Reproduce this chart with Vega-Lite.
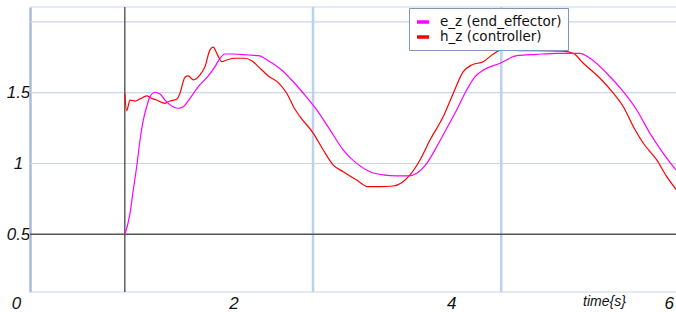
{
  "$schema": "https://vega.github.io/schema/vega-lite/v6.json",
  "width": 660,
  "height": 285,
  "autosize": {"type": "none"},
  "padding": {"left": 16, "top": 7, "right": 0, "bottom": 20},
  "background": "white",
  "config": {"view": {"stroke": null}},
  "datasets": {
    "hgrid": [
      {"z": 1.0, "t0": 0.129, "t1": 6.066, "kind": "grid"},
      {"z": 1.5, "t0": 0.129, "t1": 6.066, "kind": "grid"},
      {"z": 2.0, "t0": 0.129, "t1": 6.066, "kind": "grid"},
      {"z": 2.105, "t0": 0.129, "t1": 6.066, "kind": "frame"},
      {"z": 0.0925, "t0": 0.129, "t1": 6.066, "kind": "frame"}
    ],
    "vgrid": [{"t": 2.73}, {"t": 4.46}],
    "axes0": [{"t": 1.0, "z": 0.5}],
    "series": [
      {"t": 1.0, "z": 1.496, "s": "h_z (controller)"},
      {"t": 1.017, "z": 1.373, "s": "h_z (controller)"},
      {"t": 1.048, "z": 1.448, "s": "h_z (controller)"},
      {"t": 1.094, "z": 1.441, "s": "h_z (controller)"},
      {"t": 1.14, "z": 1.456, "s": "h_z (controller)"},
      {"t": 1.201, "z": 1.477, "s": "h_z (controller)"},
      {"t": 1.247, "z": 1.46, "s": "h_z (controller)"},
      {"t": 1.293, "z": 1.448, "s": "h_z (controller)"},
      {"t": 1.369, "z": 1.425, "s": "h_z (controller)"},
      {"t": 1.415, "z": 1.441, "s": "h_z (controller)"},
      {"t": 1.477, "z": 1.453, "s": "h_z (controller)"},
      {"t": 1.507, "z": 1.496, "s": "h_z (controller)"},
      {"t": 1.553, "z": 1.609, "s": "h_z (controller)"},
      {"t": 1.584, "z": 1.618, "s": "h_z (controller)"},
      {"t": 1.63, "z": 1.59, "s": "h_z (controller)"},
      {"t": 1.691, "z": 1.625, "s": "h_z (controller)"},
      {"t": 1.737, "z": 1.684, "s": "h_z (controller)"},
      {"t": 1.783, "z": 1.802, "s": "h_z (controller)"},
      {"t": 1.814, "z": 1.821, "s": "h_z (controller)"},
      {"t": 1.845, "z": 1.778, "s": "h_z (controller)"},
      {"t": 1.891, "z": 1.719, "s": "h_z (controller)"},
      {"t": 1.937, "z": 1.731, "s": "h_z (controller)"},
      {"t": 2.013, "z": 1.743, "s": "h_z (controller)"},
      {"t": 2.105, "z": 1.743, "s": "h_z (controller)"},
      {"t": 2.166, "z": 1.726, "s": "h_z (controller)"},
      {"t": 2.227, "z": 1.684, "s": "h_z (controller)"},
      {"t": 2.319, "z": 1.618, "s": "h_z (controller)"},
      {"t": 2.411, "z": 1.571, "s": "h_z (controller)"},
      {"t": 2.488, "z": 1.496, "s": "h_z (controller)"},
      {"t": 2.564, "z": 1.383, "s": "h_z (controller)"},
      {"t": 2.61, "z": 1.331, "s": "h_z (controller)"},
      {"t": 2.733, "z": 1.213, "s": "h_z (controller)"},
      {"t": 2.824, "z": 1.095, "s": "h_z (controller)"},
      {"t": 2.916, "z": 0.989, "s": "h_z (controller)"},
      {"t": 3.008, "z": 0.942, "s": "h_z (controller)"},
      {"t": 3.131, "z": 0.883, "s": "h_z (controller)"},
      {"t": 3.238, "z": 0.836, "s": "h_z (controller)"},
      {"t": 3.346, "z": 0.836, "s": "h_z (controller)"},
      {"t": 3.468, "z": 0.841, "s": "h_z (controller)"},
      {"t": 3.545, "z": 0.864, "s": "h_z (controller)"},
      {"t": 3.621, "z": 0.919, "s": "h_z (controller)"},
      {"t": 3.713, "z": 1.025, "s": "h_z (controller)"},
      {"t": 3.805, "z": 1.166, "s": "h_z (controller)"},
      {"t": 3.927, "z": 1.331, "s": "h_z (controller)"},
      {"t": 4.019, "z": 1.496, "s": "h_z (controller)"},
      {"t": 4.111, "z": 1.648, "s": "h_z (controller)"},
      {"t": 4.188, "z": 1.696, "s": "h_z (controller)"},
      {"t": 4.295, "z": 1.719, "s": "h_z (controller)"},
      {"t": 4.387, "z": 1.773, "s": "h_z (controller)"},
      {"t": 4.464, "z": 1.802, "s": "h_z (controller)"},
      {"t": 4.632, "z": 1.797, "s": "h_z (controller)"},
      {"t": 4.786, "z": 1.797, "s": "h_z (controller)"},
      {"t": 5.03, "z": 1.794, "s": "h_z (controller)"},
      {"t": 5.122, "z": 1.778, "s": "h_z (controller)"},
      {"t": 5.214, "z": 1.708, "s": "h_z (controller)"},
      {"t": 5.368, "z": 1.602, "s": "h_z (controller)"},
      {"t": 5.49, "z": 1.496, "s": "h_z (controller)"},
      {"t": 5.582, "z": 1.401, "s": "h_z (controller)"},
      {"t": 5.674, "z": 1.26, "s": "h_z (controller)"},
      {"t": 5.766, "z": 1.143, "s": "h_z (controller)"},
      {"t": 5.889, "z": 1.025, "s": "h_z (controller)"},
      {"t": 5.981, "z": 0.907, "s": "h_z (controller)"},
      {"t": 6.066, "z": 0.818, "s": "h_z (controller)"},

      {"t": 1.002, "z": 0.5, "s": "e_z (end_effector)"},
      {"t": 1.048, "z": 0.648, "s": "e_z (end_effector)"},
      {"t": 1.078, "z": 0.813, "s": "e_z (end_effector)"},
      {"t": 1.109, "z": 0.977, "s": "e_z (end_effector)"},
      {"t": 1.14, "z": 1.166, "s": "e_z (end_effector)"},
      {"t": 1.17, "z": 1.307, "s": "e_z (end_effector)"},
      {"t": 1.201, "z": 1.401, "s": "e_z (end_effector)"},
      {"t": 1.232, "z": 1.472, "s": "e_z (end_effector)"},
      {"t": 1.278, "z": 1.503, "s": "e_z (end_effector)"},
      {"t": 1.324, "z": 1.491, "s": "e_z (end_effector)"},
      {"t": 1.369, "z": 1.448, "s": "e_z (end_effector)"},
      {"t": 1.431, "z": 1.406, "s": "e_z (end_effector)"},
      {"t": 1.492, "z": 1.39, "s": "e_z (end_effector)"},
      {"t": 1.538, "z": 1.401, "s": "e_z (end_effector)"},
      {"t": 1.599, "z": 1.46, "s": "e_z (end_effector)"},
      {"t": 1.676, "z": 1.542, "s": "e_z (end_effector)"},
      {"t": 1.767, "z": 1.618, "s": "e_z (end_effector)"},
      {"t": 1.829, "z": 1.684, "s": "e_z (end_effector)"},
      {"t": 1.875, "z": 1.743, "s": "e_z (end_effector)"},
      {"t": 1.921, "z": 1.773, "s": "e_z (end_effector)"},
      {"t": 1.997, "z": 1.773, "s": "e_z (end_effector)"},
      {"t": 2.135, "z": 1.766, "s": "e_z (end_effector)"},
      {"t": 2.227, "z": 1.761, "s": "e_z (end_effector)"},
      {"t": 2.319, "z": 1.726, "s": "e_z (end_effector)"},
      {"t": 2.442, "z": 1.66, "s": "e_z (end_effector)"},
      {"t": 2.518, "z": 1.602, "s": "e_z (end_effector)"},
      {"t": 2.641, "z": 1.496, "s": "e_z (end_effector)"},
      {"t": 2.764, "z": 1.378, "s": "e_z (end_effector)"},
      {"t": 2.886, "z": 1.237, "s": "e_z (end_effector)"},
      {"t": 3.008, "z": 1.095, "s": "e_z (end_effector)"},
      {"t": 3.131, "z": 1.001, "s": "e_z (end_effector)"},
      {"t": 3.254, "z": 0.942, "s": "e_z (end_effector)"},
      {"t": 3.376, "z": 0.919, "s": "e_z (end_effector)"},
      {"t": 3.499, "z": 0.912, "s": "e_z (end_effector)"},
      {"t": 3.606, "z": 0.912, "s": "e_z (end_effector)"},
      {"t": 3.683, "z": 0.931, "s": "e_z (end_effector)"},
      {"t": 3.775, "z": 1.001, "s": "e_z (end_effector)"},
      {"t": 3.867, "z": 1.119, "s": "e_z (end_effector)"},
      {"t": 3.959, "z": 1.249, "s": "e_z (end_effector)"},
      {"t": 4.05, "z": 1.378, "s": "e_z (end_effector)"},
      {"t": 4.142, "z": 1.519, "s": "e_z (end_effector)"},
      {"t": 4.219, "z": 1.613, "s": "e_z (end_effector)"},
      {"t": 4.295, "z": 1.66, "s": "e_z (end_effector)"},
      {"t": 4.449, "z": 1.708, "s": "e_z (end_effector)"},
      {"t": 4.602, "z": 1.761, "s": "e_z (end_effector)"},
      {"t": 4.786, "z": 1.771, "s": "e_z (end_effector)"},
      {"t": 4.97, "z": 1.778, "s": "e_z (end_effector)"},
      {"t": 5.184, "z": 1.778, "s": "e_z (end_effector)"},
      {"t": 5.276, "z": 1.743, "s": "e_z (end_effector)"},
      {"t": 5.429, "z": 1.637, "s": "e_z (end_effector)"},
      {"t": 5.582, "z": 1.507, "s": "e_z (end_effector)"},
      {"t": 5.705, "z": 1.378, "s": "e_z (end_effector)"},
      {"t": 5.827, "z": 1.213, "s": "e_z (end_effector)"},
      {"t": 5.949, "z": 1.072, "s": "e_z (end_effector)"},
      {"t": 6.066, "z": 0.954, "s": "e_z (end_effector)"}
    ]
  },
  "layer": [
    {
      "data": {"name": "hgrid"},
      "mark": {"type": "rule"},
      "encoding": {
        "x": {"field": "t0", "type": "quantitative", "scale": {"domain": [0, 6.066], "nice": false, "zero": false}},
        "x2": {"field": "t1"},
        "y": {"field": "z", "type": "quantitative", "scale": {"domain": [0.0925, 2.105], "nice": false, "zero": false}},
        "color": {"value": "#c9d6ea"},
        "strokeWidth": {"value": 1.2}
      }
    },
    {
      "data": {"name": "vgrid"},
      "mark": {"type": "rule", "color": "#bcd0ef", "strokeWidth": 2.5},
      "encoding": {
        "x": {"field": "t", "type": "quantitative", "scale": {"domain": [0, 6.066], "nice": false, "zero": false}}
      }
    },
    {
      "data": {"name": "axes0"},
      "mark": {"type": "rule", "color": "#555555", "strokeWidth": 1.4},
      "encoding": {
        "x": {"field": "t", "type": "quantitative", "scale": {"domain": [0, 6.066], "nice": false, "zero": false}}
      }
    },
    {
      "data": {"name": "axes0"},
      "mark": {"type": "rule", "color": "#555555", "strokeWidth": 1.4},
      "encoding": {
        "x": {"datum": 0.129, "type": "quantitative", "scale": {"domain": [0, 6.066], "nice": false, "zero": false}},
        "x2": {"datum": 6.066},
        "y": {"field": "z", "type": "quantitative", "scale": {"domain": [0.0925, 2.105], "nice": false, "zero": false}}
      }
    },
    {
      "data": {"name": "series"},
      "mark": {"type": "line", "strokeWidth": 1.2, "interpolate": "monotone", "clip": true},
      "encoding": {
        "x": {
          "field": "t", "type": "quantitative",
          "scale": {"domain": [0, 6.066], "nice": false, "zero": false},
          "axis": {
            "values": [0, 2, 4, 6], "format": "~g", "grid": false, "ticks": false, "tickSize": 0,
            "domain": false, "labelFlush": false, "labelFont": "Liberation Sans", "labelFontStyle": "italic",
            "labelFontSize": 17, "labelColor": "#111111", "labelPadding": 3,
            "title": "time{s}", "titleFont": "Liberation Sans", "titleFontStyle": "italic",
            "titleFontWeight": "normal", "titleFontSize": 14, "titleColor": "#111111",
            "titleX": 588, "titleY": 9, "titleBaseline": "middle", "titleAlign": "center"
          }
        },
        "y": {
          "field": "z", "type": "quantitative",
          "scale": {"domain": [0.0925, 2.105], "nice": false, "zero": false},
          "axis": {
            "values": [0.5, 1, 1.5], "format": "~g", "grid": false, "ticks": false, "tickSize": 0,
            "offset": -14, "domain": true, "domainColor": "#a9bcd6", "domainWidth": 2.5,
            "labelFont": "Liberation Sans", "labelFontStyle": "italic", "labelFontSize": 17,
            "labelColor": "#111111", "labelAlign": "center", "labelPadding": 12, "title": null
          }
        },
        "color": {
          "field": "s", "type": "nominal",
          "scale": {"domain": ["e_z (end_effector)", "h_z (controller)"], "range": ["#ff00ff", "#ff0000"]},
          "legend": {
            "orient": "none", "legendX": 393, "legendY": 1, "title": null,
            "labelFont": "DejaVu Sans", "labelFontSize": 13.5, "labelColor": "#111111",
            "symbolType": "stroke", "symbolSize": 144, "symbolStrokeWidth": 3.5,
            "strokeColor": "#8496b6", "fillColor": "white", "padding": 6, "rowPadding": -4,
            "labelOffset": 9
          }
        }
      }
    }
  ]
}
